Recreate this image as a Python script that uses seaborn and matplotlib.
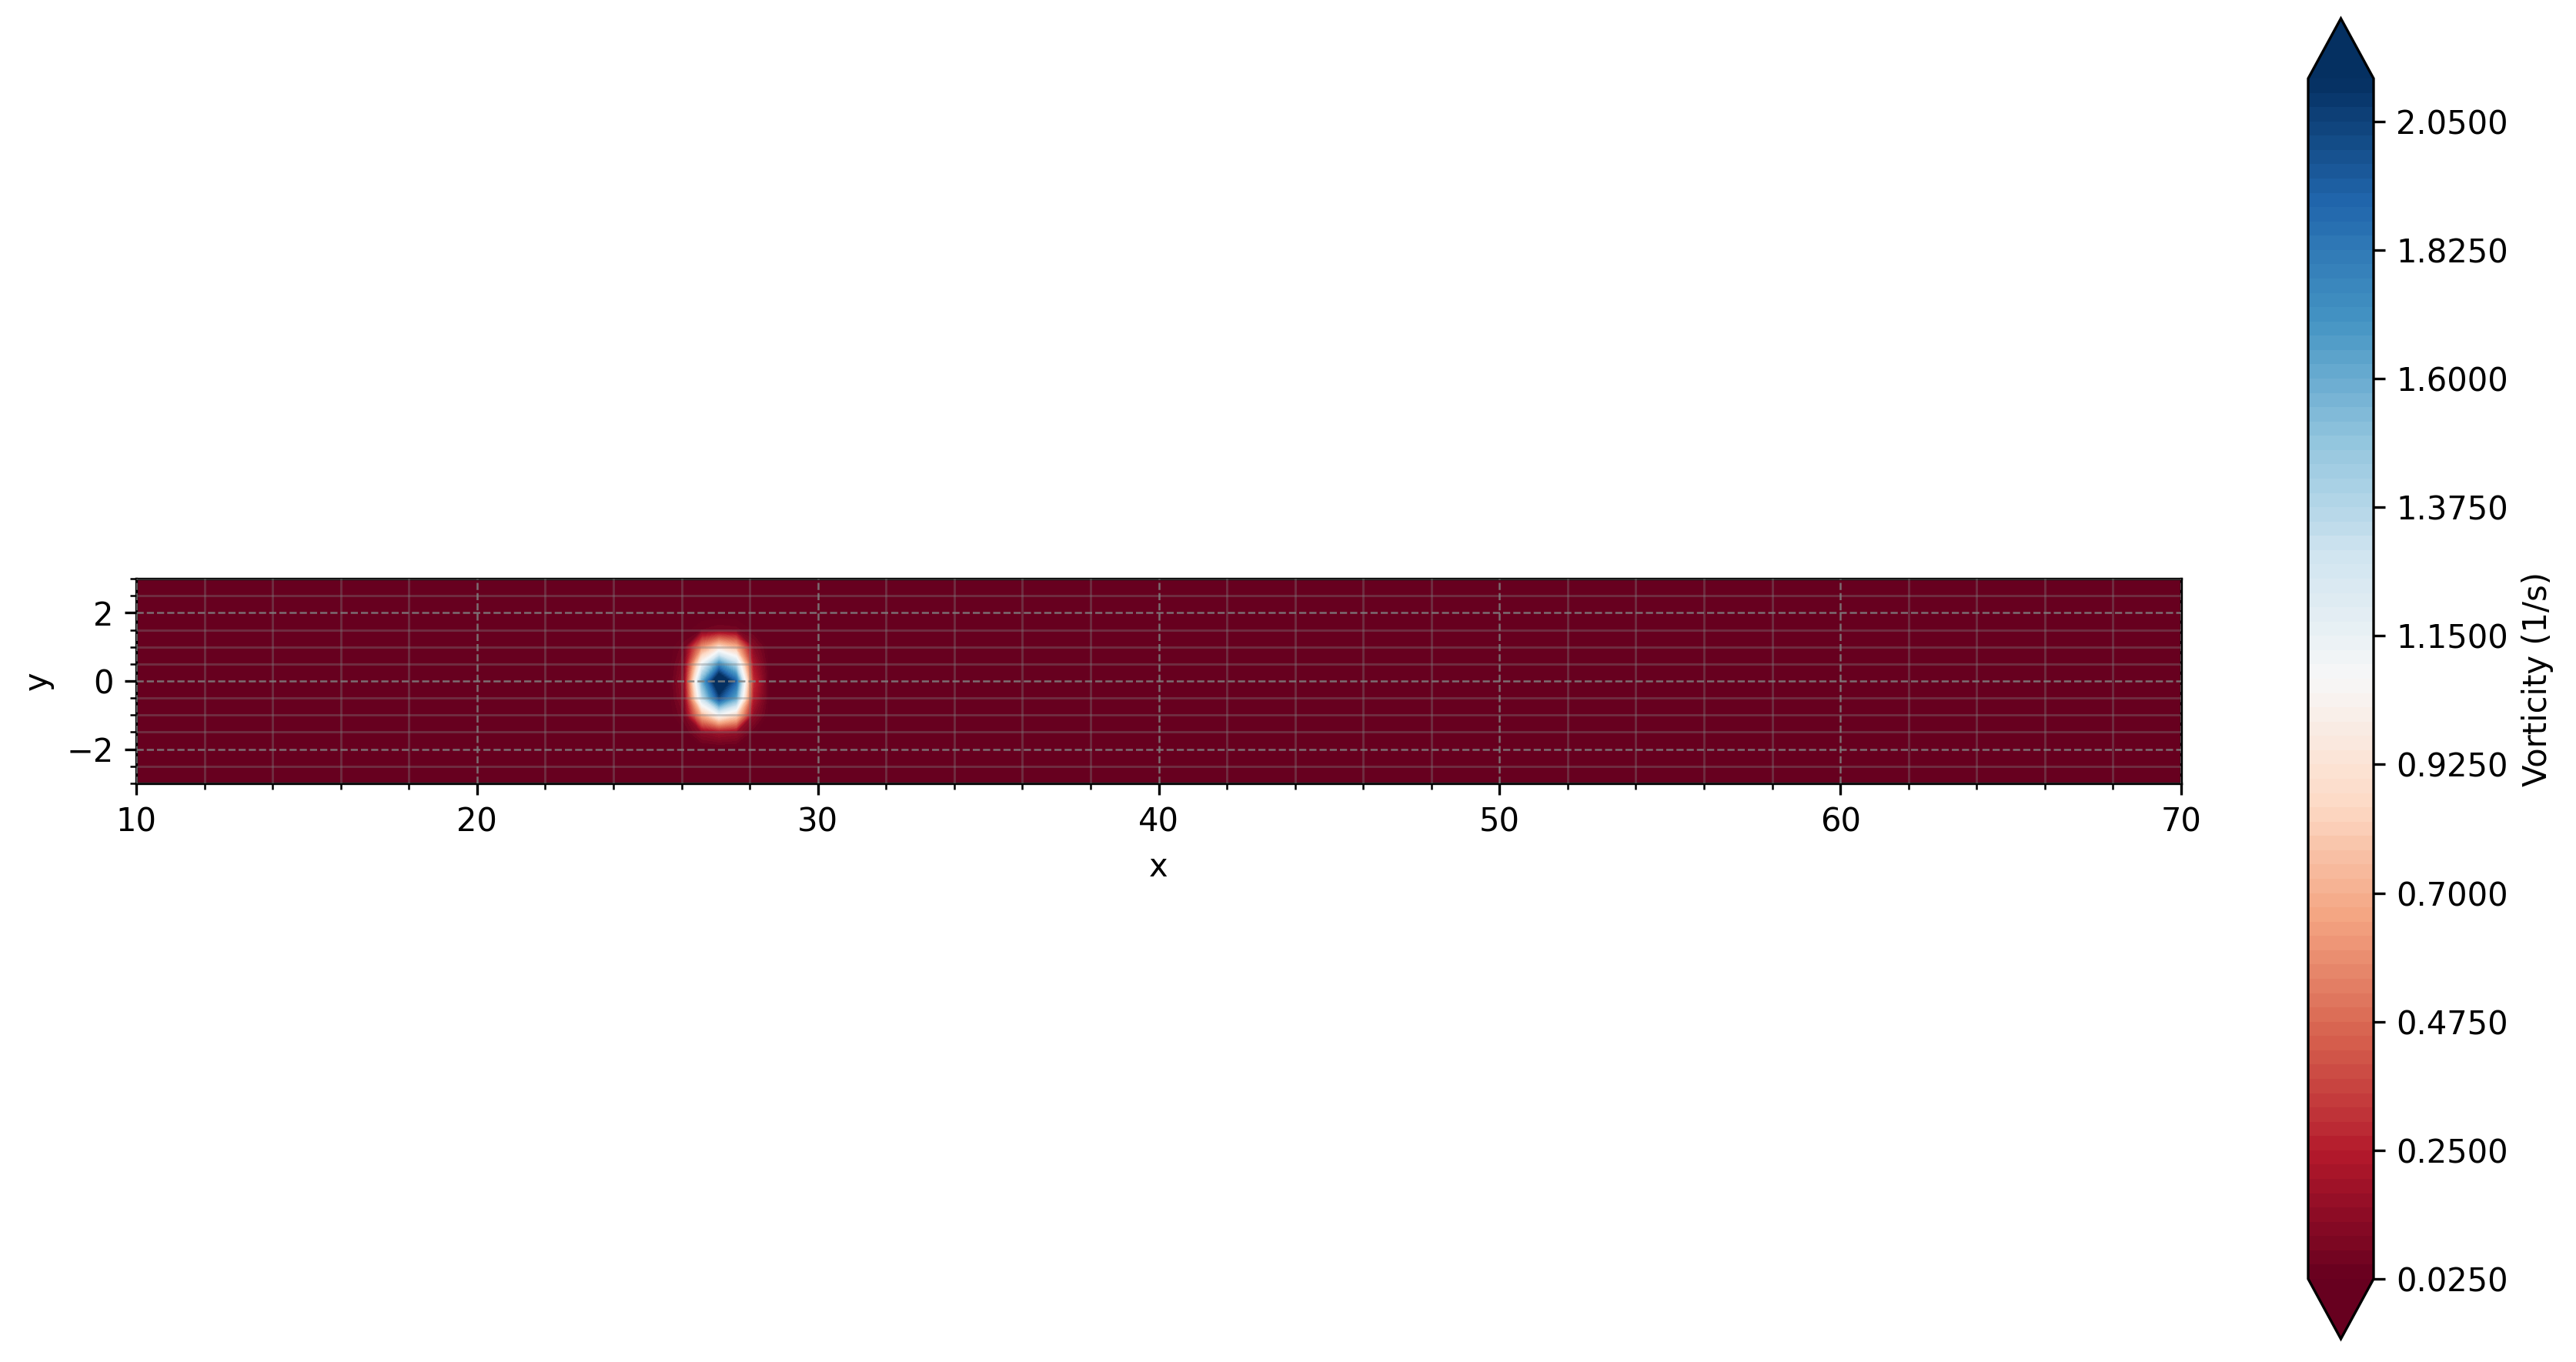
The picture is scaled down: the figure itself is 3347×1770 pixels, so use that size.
import numpy as np
import matplotlib
matplotlib.use("Agg")
import matplotlib.pyplot as plt
from matplotlib.ticker import MultipleLocator
import seaborn as sns

# --- data: vorticity (1/s) around the single vortex ---
x_nodes = [25.6, 26.1, 26.6, 27.1, 27.6, 28.1, 28.6]
y_nodes = [-2.0, -1.5, -1.0, -0.5, 0.0, 0.5, 1.0, 1.5, 2.0]
vort_rows = [
    [0.00, 0.00, 0.00, 0.00, 0.00, 0.00, 0.00],  # y = -2.0
    [0.00, 0.02, 0.13, 0.18, 0.15, 0.03, 0.00],  # y = -1.5
    [0.00, 0.08, 0.70, 1.06, 0.85, 0.14, 0.00],  # y = -1.0
    [0.00, 0.14, 1.32, 2.02, 1.62, 0.25, 0.00],  # y = -0.5
    [0.00, 0.17, 1.58, 2.40, 1.92, 0.30, 0.00],  # y =  0.0
    [0.00, 0.12, 1.12, 1.72, 1.36, 0.21, 0.00],  # y =  0.5
    [0.00, 0.07, 0.58, 0.87, 0.70, 0.12, 0.00],  # y =  1.0
    [0.00, 0.01, 0.05, 0.07, 0.06, 0.02, 0.00],  # y =  1.5
    [0.00, 0.00, 0.00, 0.00, 0.00, 0.00, 0.00],  # y =  2.0
]
background_vorticity = 0.0
x_domain = [10, 70]
y_domain = [-3, 3]

# colour scale
vmin, vmax, n_levels = 0.025, 2.125, 85
cbar_ticks = [0.025, 0.25, 0.475, 0.70, 0.925, 1.15, 1.375, 1.60, 1.825, 2.05]

# --- build the full grid (vortex block padded with background) ---
xs = np.array([x_domain[0]] + x_nodes + [x_domain[1]])
ys = np.array([y_domain[0]] + y_nodes + [y_domain[1]])
Z = np.pad(np.array(vort_rows), 1, constant_values=background_vorticity)
X, Y = np.meshgrid(xs, ys)

cmap = sns.color_palette("RdBu", as_cmap=True)
levels = np.linspace(vmin, vmax, n_levels)

fig = plt.figure(figsize=(3347 / 300, 1770 / 300), dpi=300)
ax = fig.add_axes([177 / 3347, 1 - 1019 / 1770, 2657 / 3347, 268 / 1770])
# colorbar box includes the extension triangles
cax = fig.add_axes([2999 / 3347, 1 - 1740 / 1770, 85 / 3347, 1716 / 1770])

cf = ax.contourf(X, Y, Z, levels=levels, cmap=cmap, extend="both")

ax.set_xlim(*x_domain)
ax.set_ylim(*y_domain)
ax.set_aspect("equal")
ax.set_xlabel("x")
ax.set_ylabel("y")

ax.xaxis.set_major_locator(MultipleLocator(10))
ax.xaxis.set_minor_locator(MultipleLocator(2))
ax.yaxis.set_major_locator(MultipleLocator(2))
ax.yaxis.set_minor_locator(MultipleLocator(0.5))

ax.set_axisbelow(False)
ax.grid(which="major", color="gray", linestyle="--", linewidth=0.6, alpha=0.85)
ax.grid(which="minor", color="gray", linestyle="-", linewidth=0.7, alpha=0.35)

cbar = fig.colorbar(cf, cax=cax, ticks=cbar_ticks, format="%.4f")
cbar.set_label("Vorticity (1/s)")

fig.savefig("out.png", dpi=300)
